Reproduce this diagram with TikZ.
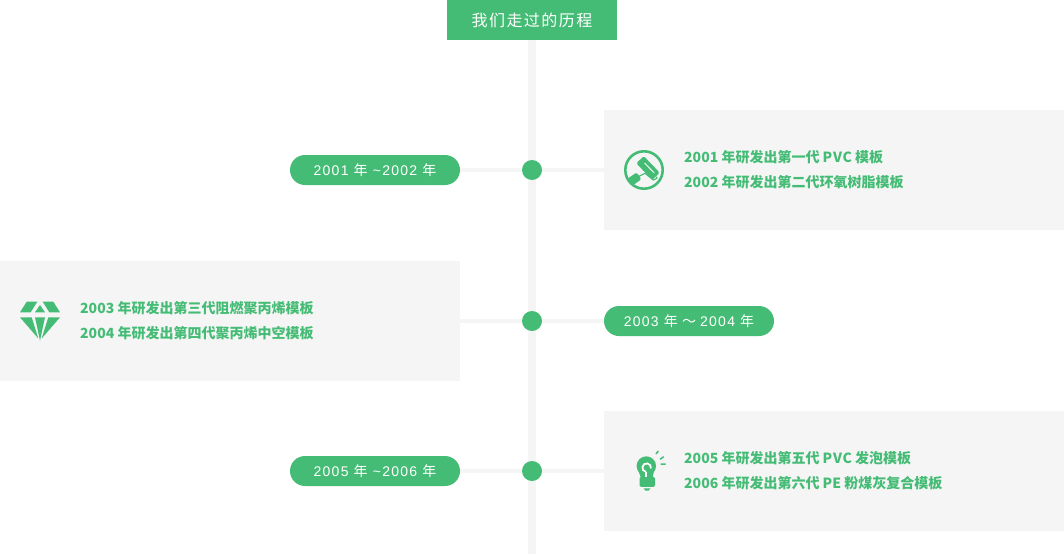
\documentclass[tikz,border=0pt]{standalone}
\usepackage{fontspec}
\usetikzlibrary{backgrounds}
\newfontfamily\cjkbody{Noto Sans CJK SC}
\newfontfamily\cjkwide[LetterSpace=5]{Noto Sans CJK SC}
\newfontfamily\cjkhead[LetterSpace=9]{Noto Sans CJK SC}
\newfontfamily\cjkpill[LetterSpace=9]{Noto Sans CJK SC}
\newfontfamily\pillfont[LetterSpace=9]{Liberation Sans}
\newcommand{\nian}[1]{{\cjkpill #1}}
\newcommand{\widepvc}{{\cjkwide\bfseries PVC}}
\definecolor{brand}{HTML}{45BC75}
\definecolor{pale}{HTML}{F5F5F5}
\tikzset{
  headbox/.style={fill=brand,text=white,minimum width=170pt,minimum height=40pt,inner sep=0pt,font=\cjkhead\fontsize{16}{16}\selectfont},
  pillbox/.style={fill=brand,text=white,rounded corners=15pt,minimum width=170pt,minimum height=30pt,inner sep=0pt,font=\pillfont\fontsize{14}{14}\selectfont},
  panel/.style={fill=pale,minimum width=460pt,minimum height=120pt,inner sep=0pt},
  dotnode/.style={circle,fill=brand,minimum size=20pt,inner sep=0pt},
  bodytext/.style={text=brand,anchor=base west,inner sep=0pt,font=\cjkbody\bfseries\fontsize{14}{14}\selectfont},
  spine/.style={draw=pale,line width=8pt},
  link/.style={draw=pale,line width=4pt},
  ic/.style={fill=brand,draw=none}
}
\begin{document}
\begin{tikzpicture}[x=1pt,y=-1pt]
\useasboundingbox (0,0) rectangle (1064,554);
\node[headbox] (head) at (532,20) {我们走过的历程};
\coordinate (bottom) at (532,554);
\node[panel] (box1) at (834,170) {};
\node[panel] (box2) at (230,321) {};
\node[panel] (box3) at (834,471) {};
\node[pillbox] (pill1) at (375,170) {2001 \nian{年} \symbol{126}2002 \nian{年}};
\node[pillbox] (pill2) at (689,321) {2003 \nian{年}\hspace{-1pt} \nian{～}\hspace{-1pt} 2004 \nian{年}};
\node[pillbox] (pill3) at (375,471) {2005 \nian{年} \symbol{126}2006 \nian{年}};
\node[dotnode] (dot1) at (532,170) {};
\node[dotnode] (dot2) at (532,321) {};
\node[dotnode] (dot3) at (532,471) {};
\begin{scope}[on background layer]
\fill[white] (0,0) rectangle (1064,554);
\draw[spine] (head.south) -- (bottom);
\draw[link] (pill1.east) -- (box1.west);
\draw[link] (box2.east) -- (pill2.west);
\draw[link] (pill3.east) -- (box3.west);
\end{scope}
\node[bodytext] (t1a) at (684,162) {2001 年研发出第一代 \widepvc{} 模板};
\node[bodytext] (t1b) at (684,187) {2002 年研发出第二代环氧树脂模板};
\node[bodytext] (t2a) at (80,313) {2003 年研发出第三代阻燃聚丙烯模板};
\node[bodytext] (t2b) at (80,338) {2004 年研发出第四代聚丙烯中空模板};
\node[bodytext] (t3a) at (684,463) {2005 年研发出第五代 \widepvc{} 发泡模板};
\node[bodytext] (t3b) at (684,488) {2006 年研发出第六代 PE 粉煤灰复合模板};
% roller icon
\draw[brand,line width=2.6pt] (644,170) circle (18.7);
\begin{scope}[shift={(648,168)},rotate=-46]
\fill[ic,rounded corners=1.5pt] (-11.5,-5.2) rectangle (11.5,5.2);
\draw[pale,line width=1pt] (-6,-1) -- (8,-1);
\end{scope}
\draw[brand,line width=1.1pt] (656.7,176.5) -- (656.7,178.3) -- (653.3,180) -- (645,173.3) -- (638.3,176.7);
\begin{scope}[shift={(634.5,179)},rotate=35]
\fill[ic,rounded corners=1.5pt] (-5.5,-4.2) rectangle (5.5,4.2);
\end{scope}
% diamond icon
\fill[ic] (26.7,301.7) -- (37.3,301.7) -- (30.7,312.3) -- (20,312.3) -- cycle;
\fill[ic] (42.7,301.7) -- (53.3,301.7) -- (60,312.3) -- (49.3,312.3) -- cycle;
\fill[ic] (40,305) -- (45,312.3) -- (35,312.3) -- cycle;
\fill[ic] (20,317.3) -- (31.7,317.3) -- (38.3,338.5) -- cycle;
\fill[ic] (35,317.3) -- (45,317.3) -- (40,340.5) -- cycle;
\fill[ic] (48.3,317.3) -- (60,317.3) -- (41.7,338.5) -- cycle;
% bulb icon
\fill[ic] (646.3,466) circle (9.7);
\fill[ic] (638.5,471) -- (654,471) -- (652.5,478) -- (641,478) -- cycle;
\fill[ic,rounded corners=1.5pt] (639.5,476.8) rectangle (655,486.8);
\fill[ic] (643.5,488.3) -- (650.5,488.3) -- (648.5,490.7) -- (645.5,490.7) -- cycle;
\draw[white,line width=1.8pt] (645.95,471.9) arc[start angle=100,end angle=370,radius=4.3];
\draw[white,line width=1.8pt] (645.95,471.9) -- (645.95,477);
\draw[brand,line width=1.5pt] (656,454) -- (658.3,451) (660,459.3) -- (663.7,456.7) (660.7,464) -- (665.7,464);
\end{tikzpicture}
\end{document}
